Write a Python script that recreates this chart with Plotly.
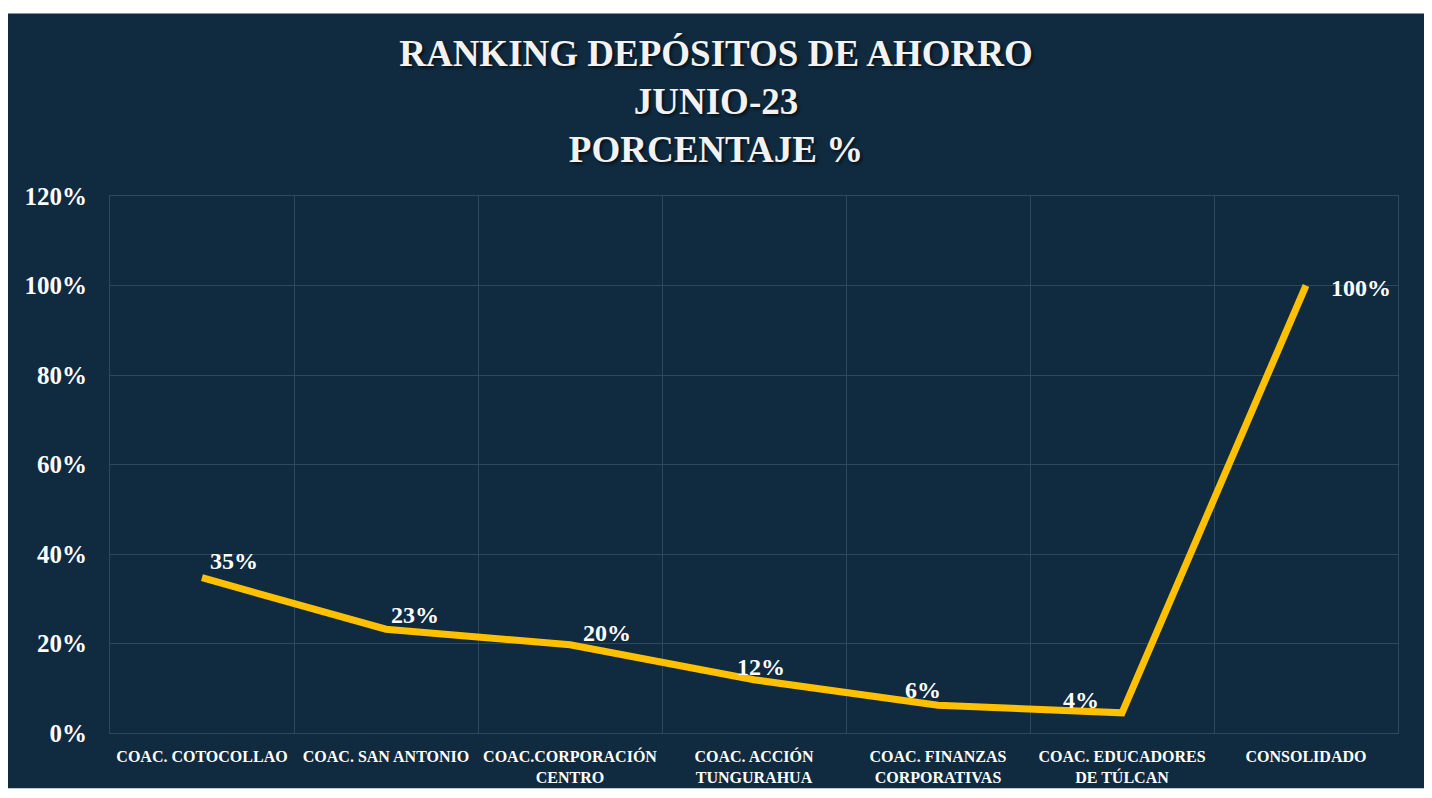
import plotly.graph_objects as go

categories = [
    "COAC. COTOCOLLAO",
    "COAC. SAN ANTONIO",
    "COAC.CORPORACIÓN<br>CENTRO",
    "COAC. ACCIÓN<br>TUNGURAHUA",
    "COAC. FINANZAS<br>CORPORATIVAS",
    "COAC. EDUCADORES<br>DE TÚLCAN",
    "CONSOLIDADO",
]
values = [0.347, 0.232, 0.197, 0.119, 0.062, 0.045, 1.00]
labels = ["35%", "23%", "20%", "12%", "6%", "4%", "100%"]
y_ticks = [0, 0.2, 0.4, 0.6, 0.8, 1.0, 1.2]
y_tick_text = ["0%", "20%", "40%", "60%", "80%", "100%", "120%"]

# label placement (pixel shifts from each point), style only
label_dx = [32, 29, 37, 7, -15, -41, 55]
label_dy = [17, 14, 12, 13, 15, 13, -2]

BG = "#102a3f"
GRID = "#2d475b"
FONT = "Liberation Serif"

fig = go.Figure()
fig.add_trace(go.Scatter(
    x=categories, y=values, mode="lines",
    line=dict(color="#FFC000", width=7),
    hoverinfo="skip", showlegend=False,
))

for cat, val, lab, dx, dy in zip(categories, values, labels, label_dx, label_dy):
    fig.add_annotation(
        x=cat, y=val, xref="x", yref="y", text=lab, showarrow=False,
        xanchor="center", yanchor="middle", xshift=dx, yshift=dy,
        font=dict(family=FONT, size=24, color="white", weight="bold"),
    )

# page has an 8px body margin; figure sized to fit the 1432x798 window
W, H = 1424, 790
L, R, T, B = 102, 34, 188, 58
pw, ph = W - L - R, H - T - B

fig.add_shape(type="rect", xref="paper", yref="paper", layer="below",
              x0=(-2 - L) / pw, x1=(1421 - L) / pw,
              y0=-(788 - (H - B)) / ph, y1=((H - B) - 3) / ph,
              fillcolor=BG, line=dict(width=0))

fig.update_layout(
    width=W, height=H,
    margin=dict(l=L, r=R, t=T, b=B),
    paper_bgcolor="white", plot_bgcolor=BG,
    title=dict(
        text="RANKING DEPÓSITOS DE AHORRO<br>JUNIO-23<br>PORCENTAJE %",
        x=(716 - 8) / W, xanchor="center", xref="container",
        y=1 - 58 / H, yanchor="top", yref="container",
        font=dict(family=FONT, size=37, color="#f2f2f2", weight="bold",
                  shadow="2px 2px 3px rgba(0,0,0,0.6)"),
    ),
    xaxis=dict(
        type="category", range=[-0.5, 6.5], tickson="boundaries",
        showgrid=True, gridcolor=GRID, gridwidth=1,
        showline=True, linecolor=GRID, mirror=True,
        ticks="", ticklabelstandoff=9,
        tickfont=dict(family=FONT, size=16, color="white", weight="bold"),
    ),
    yaxis=dict(
        range=[0, 1.2], tickvals=y_ticks, ticktext=y_tick_text,
        showgrid=True, gridcolor=GRID, gridwidth=1, zeroline=False,
        showline=True, linecolor=GRID, mirror=True,
        ticks="", ticklabelstandoff=17,
        tickfont=dict(family=FONT, size=25, color="white", weight="bold"),
    ),
)

fig.write_html("out.html")
